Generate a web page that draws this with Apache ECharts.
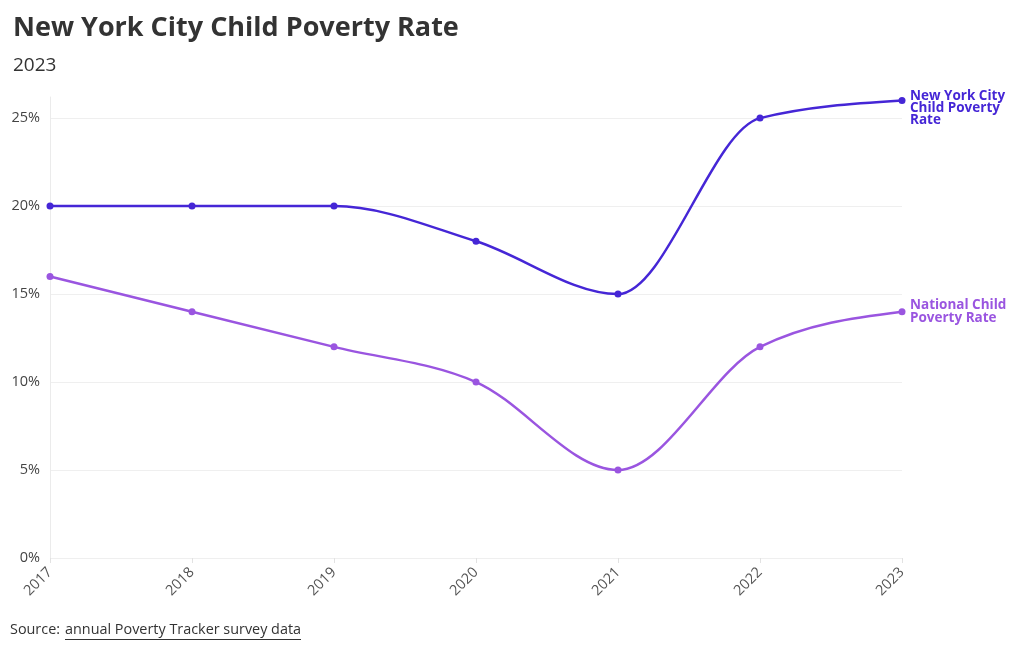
<!DOCTYPE html>
<html><head><meta charset="utf-8">
<script src="https://cdn.jsdelivr.net/npm/echarts@6/dist/echarts.min.js"></script>
<style>html,body{margin:0;padding:0;background:#fff}#c{width:1020px;height:650px}</style>
</head><body><div id="c"></div>
<script>
const years = ['2017','2018','2019','2020','2021','2022','2023'];
const nycRate = [20, 20, 20, 18, 15, 25, 26];
const nationalRate = [16, 14, 12, 10, 5, 12, 14];
const yTicks = [0, 5, 10, 15, 20, 25];

const FONT = '"Open Sans", "Noto Sans", sans-serif';
const NYC_COLOR = '#4526d6';
const NAT_COLOR = '#9a55e0';

// Monotone-X cubic rendering (like d3.curveMonotoneX) of a series, drawn via the axis scales
function monotoneRenderer(values, color) {
  return function (params, api) {
    const i = params.dataIndex;
    const n = values.length;
    if (i >= n - 1) return null;
    const pts = values.map((v, k) => api.coord([k, v]));
    const slope = k => (pts[k + 1][1] - pts[k][1]) / (pts[k + 1][0] - pts[k][0]);
    const sign = v => (v > 0 ? 1 : v < 0 ? -1 : 0);
    function tangent(k) {
      if (k > 0 && k < n - 1) {
        const h0 = pts[k][0] - pts[k - 1][0], h1 = pts[k + 1][0] - pts[k][0];
        const s0 = slope(k - 1), s1 = slope(k);
        const p = (s0 * h1 + s1 * h0) / (h0 + h1);
        return (sign(s0) + sign(s1)) * Math.min(Math.abs(s0), Math.abs(s1), 0.5 * Math.abs(p)) || 0;
      }
      if (k === 0) return (3 * slope(0) - tangent(1)) / 2;
      return (3 * slope(n - 2) - tangent(n - 2)) / 2;
    }
    const a = pts[i], b = pts[i + 1];
    const h = (b[0] - a[0]) / 3;
    const t0 = tangent(i), t1 = tangent(i + 1);
    return {
      type: 'bezierCurve',
      shape: {x1: a[0], y1: a[1], x2: b[0], y2: b[1],
              cpx1: a[0] + h, cpy1: a[1] + t0 * h, cpx2: b[0] - h, cpy2: b[1] - t1 * h},
      style: {stroke: color, lineWidth: 2.5, fill: null},
      silent: true
    };
  };
}

const chart = echarts.init(document.getElementById('c'), null, {renderer: 'canvas'});
chart.setOption({
  animation: false,
  backgroundColor: '#fff',
  textStyle: {fontFamily: FONT},
  title: [
    {text: 'New York City Child Poverty Rate', left: 8, top: 10,
     textStyle: {fontFamily: FONT, fontSize: 27, fontWeight: 'bold', color: '#333'}},
    {text: '2023', left: 8, top: 51,
     textStyle: {fontFamily: FONT, fontSize: 19, fontWeight: 'normal', color: '#333'}}
  ],
  graphic: [
    {type: 'text', left: 10, top: 623, style: {text: 'Source: ', font: '14.4px ' + FONT, fill: '#333'}},
    {type: 'text', left: 65, top: 623, style: {text: 'annual Poverty Tracker survey data', font: '14.4px ' + FONT, fill: '#333'}},
    {type: 'rect', left: 65, top: 639, shape: {width: 236, height: 1}, style: {fill: '#333'}}
  ],
  grid: {left: 50, right: 118, top: 97, bottom: 92, containLabel: false},
  xAxis: {
    type: 'category', data: years, boundaryGap: false,
    axisLine: {show: false},
    axisTick: {show: true, alignWithLabel: true, length: 5, lineStyle: {color: '#e2e2e2'}},
    axisLabel: {rotate: 45, fontSize: 14.5, color: '#555', fontFamily: FONT, margin: 12},
    splitLine: {show: false}
  },
  yAxis: {
    type: 'value', min: 0, max: 26.2, interval: 5,
    axisLine: {show: true, lineStyle: {color: '#ebebeb'}},
    axisTick: {show: false},
    axisLabel: {fontSize: 14.5, color: '#444', fontFamily: FONT, margin: 10, showMaxLabel: false,
      formatter: v => yTicks.includes(v) ? v + '%' : ''},
    splitLine: {show: true, showMaxLine: false, lineStyle: {color: '#efefef'}}
  },
  series: [
    {type: 'custom', name: 'nycCurve', data: nycRate.map((v, k) => [k, v]),
     encode: {x: 0, y: 1}, renderItem: monotoneRenderer(nycRate, NYC_COLOR), z: 2},
    {type: 'custom', name: 'natCurve', data: nationalRate.map((v, k) => [k, v]),
     encode: {x: 0, y: 1}, renderItem: monotoneRenderer(nationalRate, NAT_COLOR), z: 2},
    {name: 'New York City\nChild Poverty\nRate', type: 'line', data: nycRate, z: 3,
     symbol: 'circle', symbolSize: 7,
     lineStyle: {color: NYC_COLOR, width: 0, opacity: 0}, itemStyle: {color: NYC_COLOR},
     endLabel: {show: true, formatter: '{a}', color: NYC_COLOR, fontWeight: 'bold', fontSize: 13.5,
       fontFamily: FONT, lineHeight: 12, distance: 8, offset: [0, 8]}},
    {name: 'National Child\nPoverty Rate', type: 'line', data: nationalRate, z: 3,
     symbol: 'circle', symbolSize: 7,
     lineStyle: {color: NAT_COLOR, width: 0, opacity: 0}, itemStyle: {color: NAT_COLOR},
     endLabel: {show: true, formatter: '{a}', color: NAT_COLOR, fontWeight: 'bold', fontSize: 13.5,
       fontFamily: FONT, lineHeight: 13, distance: 8}}
  ]
});
</script></body></html>
